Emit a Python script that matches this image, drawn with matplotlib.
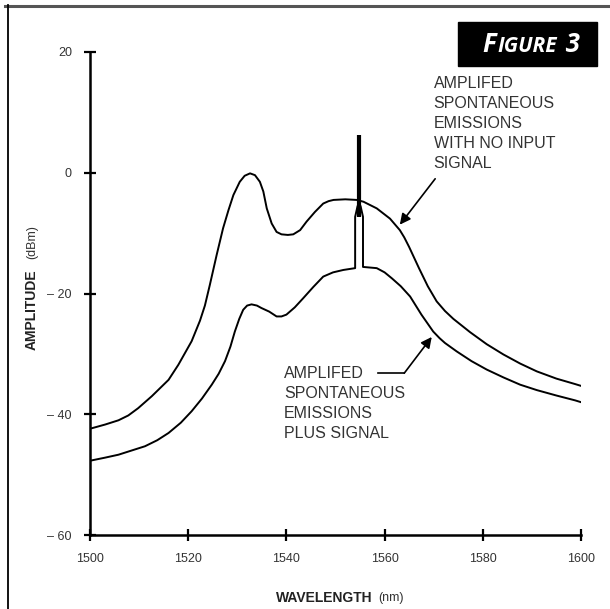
import matplotlib
matplotlib.use("Agg")
import matplotlib.pyplot as plt
from matplotlib.lines import Line2D
from matplotlib.patches import Rectangle
from matplotlib.offsetbox import TextArea, HPacker, AnnotationBbox

plt.rcParams['font.family'] = ['Liberation Sans', 'DejaVu Sans']

# ---- data ----
upper_wl = [1500, 1503.1, 1505.8, 1507.8, 1509.8, 1512.6, 1516, 1518, 1520.7, 1522.4,
            1523.4, 1524.4, 1525.8, 1527.1, 1528.2, 1529.2, 1530.5, 1531.5, 1532.6, 1533.6,
            1534.6, 1535.3, 1536, 1537, 1538, 1539, 1540.3, 1541.4, 1542.8, 1544.1,
            1545.8, 1547.5, 1548.6, 1549.6, 1552, 1554.3, 1555.7, 1558.4, 1561.1, 1563.1,
            1564, 1565, 1567, 1568.8, 1570.6, 1572.3, 1574, 1577.4, 1580.8, 1584.2, 1587.6,
            1591, 1595, 1598.8, 1600]
upper_db = [-42.4, -41.7, -41.0, -40.2, -39.0, -37.0, -34.3, -31.8, -27.9, -24.5,
            -22.0, -18.6, -13.6, -9.2, -6.2, -3.7, -1.5, -0.5, -0.1, -0.4,
            -1.5, -3.1, -5.9, -8.4, -9.8, -10.2, -10.3, -10.2, -9.5, -8.1,
            -6.5, -5.1, -4.7, -4.5, -4.4, -4.5, -4.8, -5.9, -7.6, -9.5,
            -10.7, -12.3, -15.8, -18.8, -21.3, -22.9, -24.2, -26.4, -28.4, -30.1, -31.6,
            -32.9, -34.1, -35.0, -35.3]

lower_wl = [1500, 1503, 1505.8, 1508.5, 1511.2, 1513.7, 1516, 1518.5, 1520.7, 1522.8,
            1524.8, 1526.2, 1527.5, 1528.6, 1529.5, 1530.4, 1531.2, 1532, 1532.9, 1534,
            1534.9, 1536.5, 1538, 1539, 1540, 1541.7, 1543.4, 1545.5, 1547.5, 1549.5,
            1551.6, 1554.0, 1554.0, 1554.5, 1555.1, 1555.6, 1555.6, 1558.4, 1560, 1561.5,
            1563.3, 1565.2, 1567.5, 1569.9, 1571.2, 1572.3, 1574.7, 1577.7, 1580.8, 1584.2,
            1587.6, 1591, 1595, 1598.8, 1600]
lower_db = [-47.7, -47.2, -46.7, -46.0, -45.3, -44.3, -43.1, -41.4, -39.5, -37.4,
            -35.1, -33.3, -31.2, -28.8, -26.3, -24.2, -22.7, -22.0, -21.8, -22.0,
            -22.4, -23.0, -23.8, -23.8, -23.5, -22.3, -20.8, -18.9, -17.2, -16.5,
            -16.1, -15.8, -7.3, -5.5, -5.5, -7.3, -15.6, -15.8, -16.5, -17.5,
            -18.8, -20.5, -23.5, -26.3, -27.4, -28.2, -29.6, -31.2, -32.6, -33.9,
            -35.1, -36.0, -36.9, -37.7, -38.0]

signal_wl = [1554.8, 1554.8]
signal_db = [-7.3, 6.3]

x_ticks = [1500, 1520, 1540, 1560, 1580, 1600]
y_ticks = [20, 0, -20, -40, -60]

# ---- figure ----
W, H = 610, 609
fig = plt.figure(figsize=(W / 100, H / 100), dpi=100)

def fx(px):
    return px / W

def fy(py):
    return 1 - py / H

ax = fig.add_axes([fx(90), fy(535), fx(581) - fx(90), fy(52) - fy(535)])
ax.plot(upper_wl, upper_db, color='black', lw=1.4)
ax.plot(lower_wl, lower_db, color='black', lw=1.4)
ax.plot(signal_wl, signal_db, color='black', lw=3.0, solid_capstyle='butt')

ax.set_xlim(1500, 1600)
ax.set_ylim(-60, 20)
ax.set_xticks(x_ticks)
ax.set_yticks(y_ticks)
ax.set_xticklabels([str(v) for v in x_ticks])
ax.set_yticklabels([('\u2013 ' + str(-v)) if v < 0 else str(v) for v in y_ticks])
for s in ['top', 'right']:
    ax.spines[s].set_visible(False)
for s in ['left', 'bottom']:
    ax.spines[s].set_linewidth(1.8)
ax.tick_params(direction='inout', length=8, width=1.6, labelsize=9,
               labelcolor='#333333', colors='black')
ax.tick_params(axis='x', pad=9)
ax.tick_params(axis='y', pad=9)
for t in ax.get_xticklabels() + ax.get_yticklabels():
    t.set_color('#333333')

# axis labels
fig.text(fx(372), fy(598), 'WAVELENGTH', ha='right', va='center',
         fontsize=10, fontweight='bold', color='#222222')
fig.text(fx(378), fy(598), '(nm)', ha='left', va='center',
         fontsize=9, color='#333333')
fig.text(fx(32), fy(350), 'AMPLITUDE', rotation=90, ha='center', va='bottom',
         fontsize=10, fontweight='bold', color='#222222')
fig.text(fx(32), fy(225), '(dBm)', rotation=90, ha='center', va='top',
         fontsize=9, color='#333333')

# annotations
tcol = '#333333'
ax.annotate('', xy=(1563.1, -8.6), xytext=(1570.3, -1.0),
            arrowprops=dict(arrowstyle='-|>', color='black', lw=1.2,
                            mutation_scale=16, shrinkA=0, shrinkB=0))
ax.text(1570.0, 16.0, 'AMPLIFED\nSPONTANEOUS\nEMISSIONS\nWITH NO INPUT\nSIGNAL',
        ha='left', va='top', fontsize=11.5, color=tcol, linespacing=1.42)

ax.plot([1558.7, 1564.0], [-33.2, -33.2], color='black', lw=1.2)
ax.annotate('', xy=(1569.6, -27.2), xytext=(1564.0, -33.2),
            arrowprops=dict(arrowstyle='-|>', color='black', lw=1.2,
                            mutation_scale=16, shrinkA=0, shrinkB=0))
ax.text(1539.5, -32.0, 'AMPLIFED\nSPONTANEOUS\nEMISSIONS\nPLUS SIGNAL',
        ha='left', va='top', fontsize=11.5, color=tcol, linespacing=1.42)

# frame lines
fig.add_artist(Line2D([fx(5), 1], [fy(6), fy(6)], color='#555555', lw=2.2))
fig.add_artist(Line2D([fx(8), fx(8)], [0, fy(5)], color='black', lw=1.3))

# FIGURE 3 box
fig.add_artist(Rectangle((fx(458), fy(66)), fx(597) - fx(458), fy(22) - fy(66),
                         transform=fig.transFigure, color='black', zorder=5))
tp_big = dict(color='white', fontsize=18.5, fontweight='bold', fontstyle='italic',
              family='Open Sans')
tp_small = dict(color='white', fontsize=15, fontweight='bold', fontstyle='italic',
                family='Open Sans')
packer = HPacker(children=[TextArea('F', textprops=tp_big),
                           TextArea('IGURE', textprops=tp_small),
                           TextArea(' 3', textprops=tp_big)],
                 align='baseline', pad=0, sep=1)
ab = AnnotationBbox(packer, (fx(531), fy(44)), xycoords='figure fraction',
                    frameon=False, box_alignment=(0.5, 0.5), zorder=6)
fig.add_artist(ab)

fig.savefig('out.png', dpi=100)
